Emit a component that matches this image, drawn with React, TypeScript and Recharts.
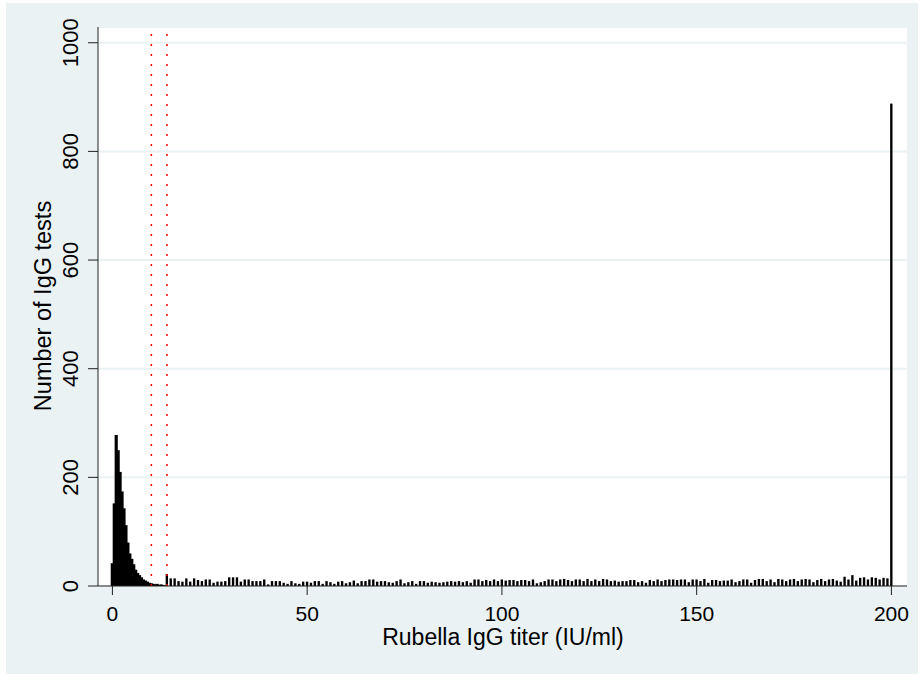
import {
  ComposedChart,
  Bar,
  XAxis,
  YAxis,
  CartesianGrid,
  ReferenceLine,
} from "recharts";

// titers 0..14 in half-unit bins
const lowTiters = [0, 0.5, 1, 1.5, 2, 2.5, 3, 3.5, 4, 4.5, 5, 5.5, 6, 6.5, 7, 7.5, 8, 8.5, 9, 9.5, 10, 10.5, 11, 11.5, 12, 12.5, 13, 13.5, 14];
const lowCounts = [42, 152, 278, 250, 210, 174, 143, 112, 80, 60, 50, 40, 30, 24, 20, 16, 12, 10, 8, 6, 5, 4, 3, 4, 2, 3, 2, 1, 22];

// integer titers 15..199
const midStart = 15;
const midCounts = [
  14, 14, 9, 8, 14,
  8, 14, 11, 9, 12, 12, 6, 8, 8, 9,
  16, 16, 16, 8, 12, 12, 9, 9, 9, 12,
  3, 9, 9, 9, 6, 4, 9, 5, 4, 8,
  8, 6, 9, 9, 4, 9, 7, 4, 8, 9,
  5, 7, 10, 5, 9, 9, 12, 12, 8, 9,
  9, 7, 6, 9, 12, 5, 7, 9, 4, 9,
  9, 6, 8, 7, 6, 7, 8, 9, 8, 9,
  7, 9, 6, 12, 12, 9, 11, 9, 12, 9,
  12, 10, 11, 11, 9, 11, 11, 9, 12, 5,
  7, 9, 12, 12, 9, 12, 13, 11, 9, 12,
  12, 9, 13, 9, 12, 9, 13, 12, 9, 10,
  8, 9, 9, 11, 11, 7, 9, 6, 11, 9,
  12, 9, 11, 12, 12, 11, 12, 12, 7, 12,
  12, 9, 13, 6, 11, 11, 9, 10, 10, 12,
  7, 9, 12, 12, 6, 11, 13, 13, 9, 12,
  7, 13, 12, 9, 12, 13, 9, 12, 13, 12,
  7, 11, 13, 9, 12, 13, 10, 8, 17, 12,
  20, 10, 15, 16, 12, 16, 15, 12, 15, 14,
];

// capped titer value
const topTiter = 200;
const topCount = 888;

const xTicks = [0, 50, 100, 150, 200];
const yTicks = [0, 200, 400, 600, 800, 1000];
const cutoffs = [10, 14];

const data = [
  ...lowTiters.map((t, i) => ({ titer: t, count: lowCounts[i] })),
  ...midCounts.map((c, i) => ({ titer: midStart + i, count: c })),
  { titer: topTiter, count: topCount },
];

const FONT = "'Liberation Sans', Arial, sans-serif";
const BG = "#eaf2f3";

function YTick(props: any) {
  const { x, y, payload } = props;
  return (
    <text
      x={x}
      y={y}
      transform={`rotate(-90, ${x}, ${y})`}
      textAnchor="middle"
      fontSize={22}
      fontFamily={FONT}
      fill="#000"
    >
      {payload.value}
    </text>
  );
}

// the dense low bins touch each other, so widen them a little
function HistBar(props: any) {
  const { x, y, width, height, payload } = props;
  if (!height || height <= 0) return null;
  const dense = payload && payload.titer < 14;
  const pad = dense ? 0.7 : 0.3;
  return (
    <rect
      x={x - pad}
      y={y}
      width={width + pad * 2}
      height={height}
      fill="#000"
    />
  );
}

export default function App() {
  return (
    <div
      style={{
        position: "absolute",
        left: 0,
        top: 0,
        width: 921,
        height: 675,
        background: "#fff",
      }}
    >
      <div
        style={{
          position: "absolute",
          left: 6,
          top: 3,
          width: 912,
          height: 671,
          background: BG,
        }}
      />
      <div style={{ position: "absolute", left: 0, top: 0 }}>
        <ComposedChart
          width={921}
          height={675}
          data={data}
          margin={{ top: 27, right: 14, bottom: 29, left: 38 }}
        >
          <CartesianGrid
            vertical={false}
            stroke={BG}
            strokeWidth={2}
            fill="#fff"
          />
          <XAxis
            dataKey="titer"
            type="number"
            domain={[-3.7, 204]}
            ticks={xTicks}
            height={60}
            stroke="#222"
            tickSize={9}
            tickMargin={11}
            tick={{ fontSize: 21, fill: "#000", fontFamily: FONT }}
            label={{
              content: () => (
                <text
                  x={503}
                  y={645}
                  textAnchor="middle"
                  fontSize={23}
                  fontFamily={FONT}
                  fill="#000"
                >
                  Rubella IgG titer (IU/ml)
                </text>
              ),
            }}
          />
          <YAxis
            type="number"
            domain={[0, 1029]}
            ticks={yTicks}
            width={60}
            stroke="#222"
            tickSize={10}
            tickMargin={10}
            tick={<YTick />}
            label={{
              content: () => (
                <text
                  x={51}
                  y={306}
                  transform="rotate(-90, 51, 306)"
                  textAnchor="middle"
                  fontSize={23.5}
                  fontFamily={FONT}
                  fill="#000"
                >
                  Number of IgG tests
                </text>
              ),
            }}
          />
          <Bar
            dataKey="count"
            fill="#000"
            barSize={2}
            shape={<HistBar />}
            isAnimationActive={false}
          />
          {cutoffs.map((c) => (
            <ReferenceLine
              key={c}
              segment={[
                { x: c, y: 0 },
                { x: c, y: 1018 },
              ]}
              stroke="#ff0000"
              strokeWidth={1.5}
              strokeDasharray="2 8"
            />
          ))}
        </ComposedChart>
      </div>
    </div>
  );
}
